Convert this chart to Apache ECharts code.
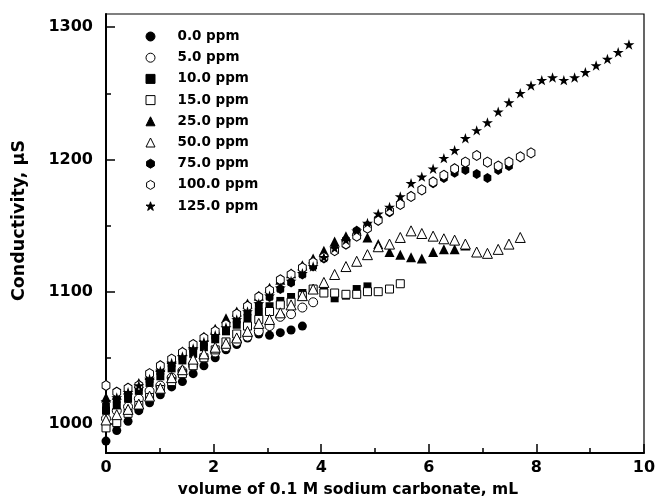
<!DOCTYPE html>
<html>
<head>
<meta charset="utf-8">
<script src="https://cdn.jsdelivr.net/npm/echarts@6/dist/echarts.min.js"></script>
<style>html,body{margin:0;padding:0;background:#fff}#c{width:659px;height:503px}</style>
</head>
<body>
<div id="c"></div>
<script>
// shared volume steps (mL)
var volume = [0.00,0.20,0.41,0.61,0.81,1.01,1.22,1.42,1.62,1.82,2.03,2.23,2.43,2.63,2.84,3.04,3.24,3.44,3.65,3.85,4.05,4.25,4.46,4.66,4.86,5.06,5.27,5.47,5.67,5.87,6.08,6.28,6.48,6.68,6.89,7.09,7.29,7.49,7.70,7.90,8.10,8.30,8.51,8.71,8.91,9.11,9.32,9.52,9.72];

var seriesNames = ['0.0 ppm','5.0 ppm','10.0 ppm','15.0 ppm','25.0 ppm','50.0 ppm','75.0 ppm','100.0 ppm','125.0 ppm'];

var ppm0   = [987,995,1002,1010,1016,1022,1028,1032,1038,1044,1050,1056,1060,1065,1068,1067,1069,1071,1074];
var ppm5   = [1004,1010,1013,1019,1025,1029,1035,1040,1044,1050,1054,1058,1062,1066,1070,1074,1081,1083,1088,1092];
var ppm10  = [1010,1014,1019,1025,1031,1036,1042,1048,1053,1058,1064,1070,1075,1080,1085,1089,1093,1096,1099,1102,1100,1095,1097,1102,1104];
var ppm15  = [997,1001,1008,1014,1020,1026,1032,1038,1044,1050,1056,1062,1068,1074,1079,1085,1090,1092,1097,1102,1099,1099,1098,1098,1100,1100,1102,1106];
var ppm25  = [1020,1022,1026,1031,1037,1043,1049,1055,1060,1066,1072,1080,1085,1091,1097,1103,1109,1114,1120,1125,1131,1138,1142,1146,1141,1136,1130,1128,1126,1125,1130,1132,1132,1135];
var ppm50  = [1003,1007,1011,1015,1021,1027,1035,1041,1049,1053,1058,1061,1065,1070,1076,1079,1084,1090,1097,1102,1107,1113,1119,1123,1128,1134,1136,1141,1146,1144,1142,1140,1139,1136,1130,1129,1132,1136,1141];
var ppm75  = [1014,1018,1022,1027,1033,1039,1045,1050,1056,1061,1066,1072,1078,1084,1090,1096,1102,1107,1113,1119,1125,1132,1139,1146,1150,1155,1160,1166,1172,1177,1182,1186,1190,1192,1189,1186,1192,1195];
var ppm100 = [1029,1024,1027,1029,1038,1044,1049,1054,1060,1065,1070,1075,1083,1089,1096,1101,1109,1113,1118,1122,1126,1131,1136,1142,1148,1154,1161,1166,1172,1177,1183,1188,1193,1198,1203,1198,1195,1198,1202,1205];
var ppm125 = [1017,1020,1024,1029,1034,1040,1046,1051,1057,1062,1067,1073,1079,1085,1091,1097,1103,1108,1114,1119,1126,1133,1139,1146,1152,1159,1164,1172,1182,1187,1193,1201,1207,1216,1222,1228,1236,1243,1250,1256,1260,1262,1260,1262,1266,1271,1276,1281,1287];

var xTicks = [0,2,4,6,8,10];
var yTicks = [1000,1100,1200,1300];
var yMinorTicks = [1050,1150,1250];

var HEX = 'path://M0,-1L0.866,-0.5L0.866,0.5L0,1L-0.866,0.5L-0.866,-0.5Z';
var STAR = 'path://M0,-1L0.2245,-0.309L0.951,-0.309L0.363,0.118L0.588,0.809L0,0.382L-0.588,0.809L-0.363,0.118L-0.951,-0.309L-0.2245,-0.309Z';

var allValues = [ppm0,ppm5,ppm10,ppm15,ppm25,ppm50,ppm75,ppm100,ppm125];
var symbols = ['circle','circle','rect','rect','triangle','triangle',HEX,HEX,STAR];
var sizes = [9,9,8,8,10,10,[9,10],[9,10],11];
var filled = [true,false,true,false,true,false,true,false,true];

function pairs(vals){ return vals.map(function(v,i){ return [volume[i], v]; }); }

var FONT = 'DejaVu Sans';
var series = allValues.map(function(vals, i){
  return {
    type: 'scatter',
    name: seriesNames[i],
    data: pairs(vals),
    symbol: symbols[i],
    symbolSize: sizes[i],
    symbolKeepAspect: true,
    itemStyle: filled[i] ? {color:'#000', borderColor:'#000', borderWidth:0, opacity:1}
                         : {color:'#fff', borderColor:'#000', borderWidth:1, opacity:1},
    emphasis: {disabled: true},
    silent: true,
    z: 2 + i
  };
});

var chart = echarts.init(document.getElementById('c'), null, {renderer:'canvas'});
chart.setOption({
  animation: false,
  backgroundColor: '#fff',
  grid: {left:106, right:15, top:14, bottom:43, show:true, borderColor:'#000', borderWidth:1.2, backgroundColor:'transparent'},
  legend: {
    orient: 'vertical', left: 145.5, top: 29, padding: 0,
    itemWidth: 9, itemHeight: 9, itemGap: 6.2,
    itemStyle: {borderWidth: 1},
    selectedMode: false,
    formatter: function(n){ return '{t|' + n + '}'; },
    textStyle: {
      fontFamily: FONT, fontWeight: 'bold', fontSize: 13.5, color:'#000', lineHeight: 15,
      rich: {t: {fontFamily: FONT, fontWeight:'bold', fontSize:13.5, color:'#000', lineHeight:15, padding:[0,0,0,17.5]}}
    },
    data: seriesNames
  },
  xAxis: {
    type: 'value', min: 0, max: 10, interval: 2,
    name: 'volume of 0.1 M sodium carbonate, mL', nameLocation: 'middle', nameGap: 29,
    nameTextStyle: {fontFamily: FONT, fontWeight:'bold', fontSize: 15.5, color:'#000', padding:[0,54,0,0]},
    axisLine: {show:true, onZero:false, lineStyle:{color:'#000', width:2}},
    axisTick: {show:true, inside:true, length:9, lineStyle:{color:'#000', width:1.5}},
    minorTick: {show:true, splitNumber:2, length:5, lineStyle:{color:'#000', width:1.5}},
    splitLine: {show:false},
    axisLabel: {fontFamily: FONT, fontWeight:'bold', fontSize:16, color:'#000', margin:7, customValues: xTicks,
                formatter: function(v){ return String(v); }}
  },
  yAxis: [{
    type: 'value', min: 978, max: 1310,
    name: 'Conductivity, \u00b5S', nameLocation: 'middle', nameGap: 78,
    nameTextStyle: {fontFamily: FONT, fontWeight:'bold', fontSize: 17.5, color:'#000', padding:[0,0,0,26]},
    axisLine: {show:true, onZero:false, lineStyle:{color:'#000', width:2}},
    axisTick: {show:true, inside:true, length:9, lineStyle:{color:'#000', width:1.5}, customValues: yTicks},
    splitLine: {show:false},
    axisLabel: {fontFamily: FONT, fontWeight:'bold', fontSize:16, color:'#000', margin:13, customValues: yTicks,
                formatter: function(v){ return String(v); }}
  },{
    type: 'value', min: 978, max: 1310, position: 'left',
    axisLine: {show:false},
    axisTick: {show:true, inside:true, length:5, lineStyle:{color:'#000', width:1.5}, customValues: yMinorTicks},
    axisLabel: {show:false},
    splitLine: {show:false}
  }],
  series: series
});
</script>
</body>
</html>
